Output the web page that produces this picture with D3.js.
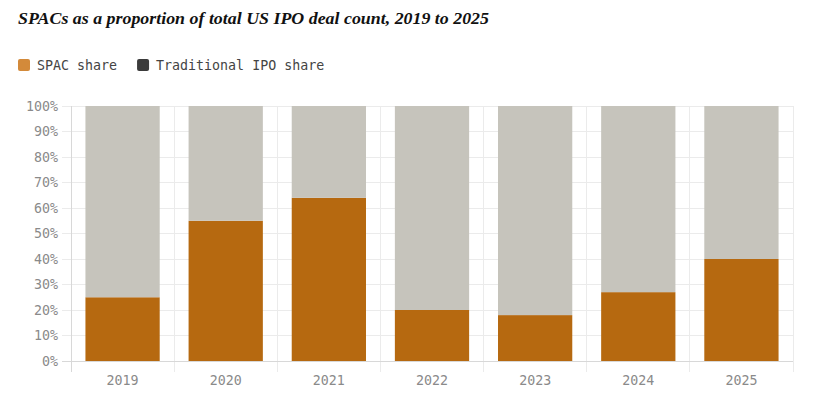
<!DOCTYPE html>
<html><head><meta charset="utf-8">
<script src="https://cdn.jsdelivr.net/npm/d3@7"></script>
<style>
body{margin:0;background:#fff;}
svg{display:block;}
</style></head>
<body><svg id="c" width="819" height="404"></svg>
<script>
const years = ["2019","2020","2021","2022","2023","2024","2025"];
const spacShare = [25,55,64,20,18,27,40];
const tradShare = spacShare.map(v => 100 - v);
const yTicks = [0,10,20,30,40,50,60,70,80,90,100];
const seriesNames = ["SPAC share","Traditional IPO share"];
const barColors = ["#b66910","#c6c4bc"];
const legendColors = ["#d38a3a","#3b3b3b"];

const svg = d3.select("#c");
const m = {l:71, r:793, t:106, b:361};
const x = d3.scaleBand().domain(years).range([m.l, m.r]).paddingInner(0.28).paddingOuter(0.14);
const y = d3.scaleLinear().domain([0,100]).range([m.b, m.t]);
const mono = "'DejaVu Sans Mono', monospace";

// title
const title = svg.append("text").attr("x",18).attr("y",24)
  .attr("font-family","'Liberation Serif', serif").attr("font-weight","bold").attr("font-style","italic")
  .attr("font-size",17.5).attr("fill","#111").text("SPACs as a proportion of total US IPO deal count, 2019 to 2025");
const tw = title.node().getComputedTextLength();
if (tw > 0) title.attr("textLength", 471).attr("lengthAdjust","spacingAndGlyphs");

// legend
const lg = svg.append("g");
let lx = 18;
seriesNames.forEach((n,i)=>{
  lg.append("rect").attr("x",lx).attr("y",59).attr("width",12).attr("height",12).attr("rx",2).attr("fill",legendColors[i]);
  const t = lg.append("text").attr("x",lx+19).attr("y",70).attr("font-family",mono).attr("font-size",13.3).attr("fill","#444").text(n);
  lx += 19 + t.node().getComputedTextLength() + 20;
});

// grid
const step = x.step();
const bounds = d3.range(years.length+1).map(i => m.l + i*step);
svg.append("g").selectAll("line").data(yTicks).join("line")
  .attr("x1",62).attr("x2",m.r).attr("y1",d=>y(d)).attr("y2",d=>y(d))
  .attr("stroke","#ebebeb").attr("stroke-width",1).attr("shape-rendering","crispEdges");
svg.append("g").selectAll("line").data(bounds).join("line")
  .attr("x1",d=>d).attr("x2",d=>d).attr("y1",m.t).attr("y2",372)
  .attr("stroke",(d,i)=> i===0 ? "#d8d8d8" : "#ebebeb").attr("stroke-width",1).attr("shape-rendering","crispEdges");

// y labels
svg.append("g").selectAll("text").data(yTicks).join("text")
  .attr("x",58).attr("y",d=>y(d)).attr("dy","0.35em").attr("text-anchor","end")
  .attr("font-family",mono).attr("font-size",13.3).attr("fill","#8a8a8a").text(d=>d+"%");

// bars
const stacked = d3.stack().keys(["spac","trad"])(years.map((yr,i)=>({year:yr, spac:spacShare[i], trad:tradShare[i]})));
svg.append("g").selectAll("g").data(stacked).join("g").attr("fill",(d,i)=>barColors[i])
  .selectAll("rect").data(d=>d).join("rect")
  .attr("x",d=>x(d.data.year)).attr("width",x.bandwidth())
  .attr("y",d=>y(d[1])).attr("height",d=>y(d[0])-y(d[1]));

// baseline
svg.append("line").attr("x1",62).attr("x2",m.r).attr("y1",m.b).attr("y2",m.b)
  .attr("stroke","#d8d8d8").attr("shape-rendering","crispEdges");

// x labels
svg.append("g").selectAll("text").data(years).join("text")
  .attr("x",d=>x(d)+x.bandwidth()/2).attr("y",385).attr("text-anchor","middle")
  .attr("font-family",mono).attr("font-size",13.3).attr("fill","#8a8a8a").text(d=>d);
</script></body></html>
